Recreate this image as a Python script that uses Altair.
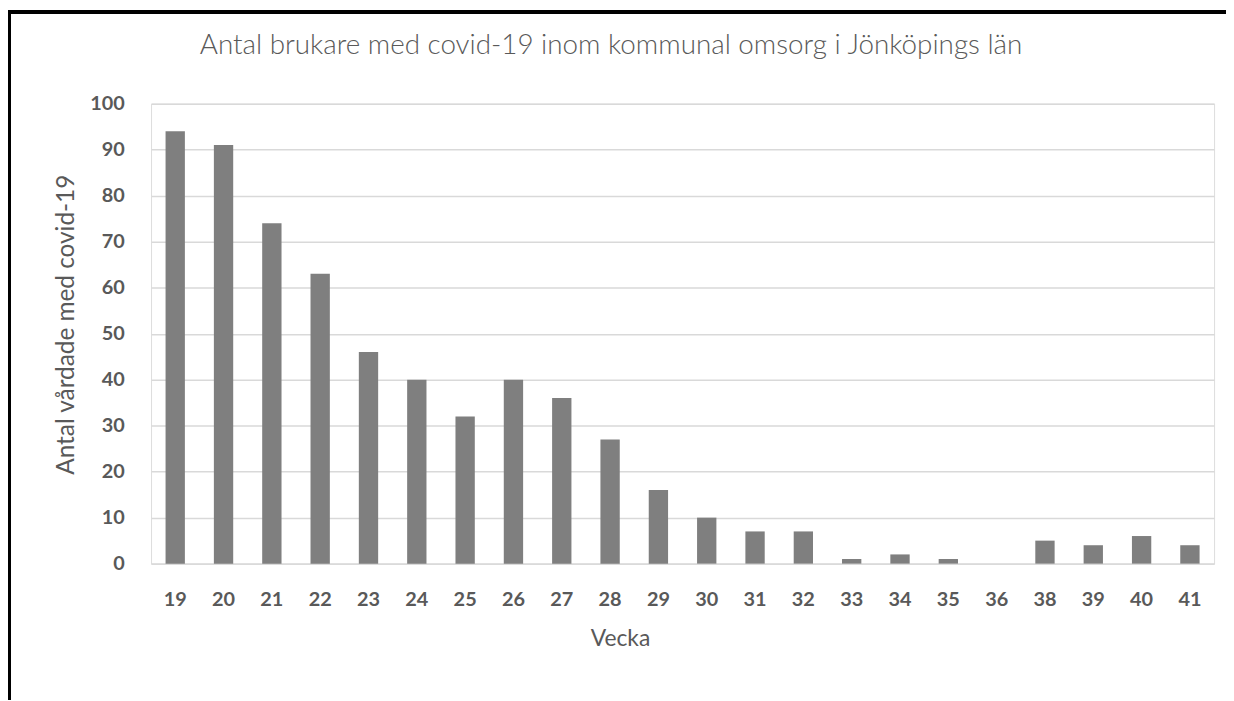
import altair as alt
import pandas as pd

weeks = ["19", "20", "21", "22", "23", "24", "25", "26", "27", "28", "29",
         "30", "31", "32", "33", "34", "35", "36", "38", "39", "40", "41"]
values = [94, 91, 74, 63, 46, 40, 32, 40, 36, 27, 16,
          10, 7, 7, 1, 2, 1, 0, 5, 4, 6, 4]
title_text = "Antal brukare med covid-19 inom kommunal omsorg i Jönköpings län"

df = pd.DataFrame({"Vecka": weeks, "Antal": values})

FONT = "Lato"
GREY = "#595959"

bars = alt.Chart(df).mark_bar(color="#7f7f7f").encode(
    x=alt.X("Vecka:N", sort=weeks,
            scale=alt.Scale(paddingInner=0.6, paddingOuter=0.3),
            axis=alt.Axis(title="Vecka", labelAngle=0, labelFont=FONT, labelFontSize=20,
                          labelFontWeight="bold", labelColor=GREY, labelPadding=26,
                          ticks=False, domainColor="#d9d9d9", domainWidth=1.5,
                          titleFont=FONT, titleFontSize=23, titleFontWeight="normal",
                          titleColor=GREY, titleX=472, titleY=82,
                          titleBaseline="alphabetic", titleAlign="center")),
    y=alt.Y("Antal:Q", scale=alt.Scale(domain=[0, 100], nice=False),
            axis=alt.Axis(title="Antal vårdade med covid-19", values=list(range(0, 101, 10)),
                          labelFont=FONT, labelFontSize=20, labelFontWeight="bold",
                          labelColor=GREY, labelPadding=27, ticks=False, domain=False,
                          gridColor="#d9d9d9", gridWidth=1.5,
                          titleFont=FONT, titleFontSize=24.5, titleFontWeight="normal",
                          titleColor=GREY, titleX=-78, titleY=222, titleAngle=-90,
                          titleBaseline="alphabetic", titleAlign="center")),
)

title_df = pd.DataFrame({"t": [title_text]})
title_mark = alt.Chart(title_df).mark_text(
    font=FONT, fontSize=28, fontWeight=300, color=GREY,
    align="center", baseline="alphabetic").encode(
    text="t:N", x=alt.value(463), y=alt.value(-50))

frame_top = alt.Chart(df).mark_rule(color="black", strokeWidth=3).encode(
    x=alt.value(-144), x2=alt.value(1090), y=alt.value(-92.5))
frame_left = alt.Chart(df).mark_rule(color="black", strokeWidth=3).encode(
    x=alt.value(-143), y=alt.value(-94), y2=alt.value(600))

chart = alt.layer(bars, title_mark, frame_top, frame_left).properties(
    width=1070, height=463,
    autosize=alt.AutoSizeParams(type="none"),
    padding={"left": 144, "top": 94, "right": 12, "bottom": 136},
).configure_view(stroke=None).configure(background="white")

chart.save("out.html", embed_options={"renderer": "svg", "actions": False})
